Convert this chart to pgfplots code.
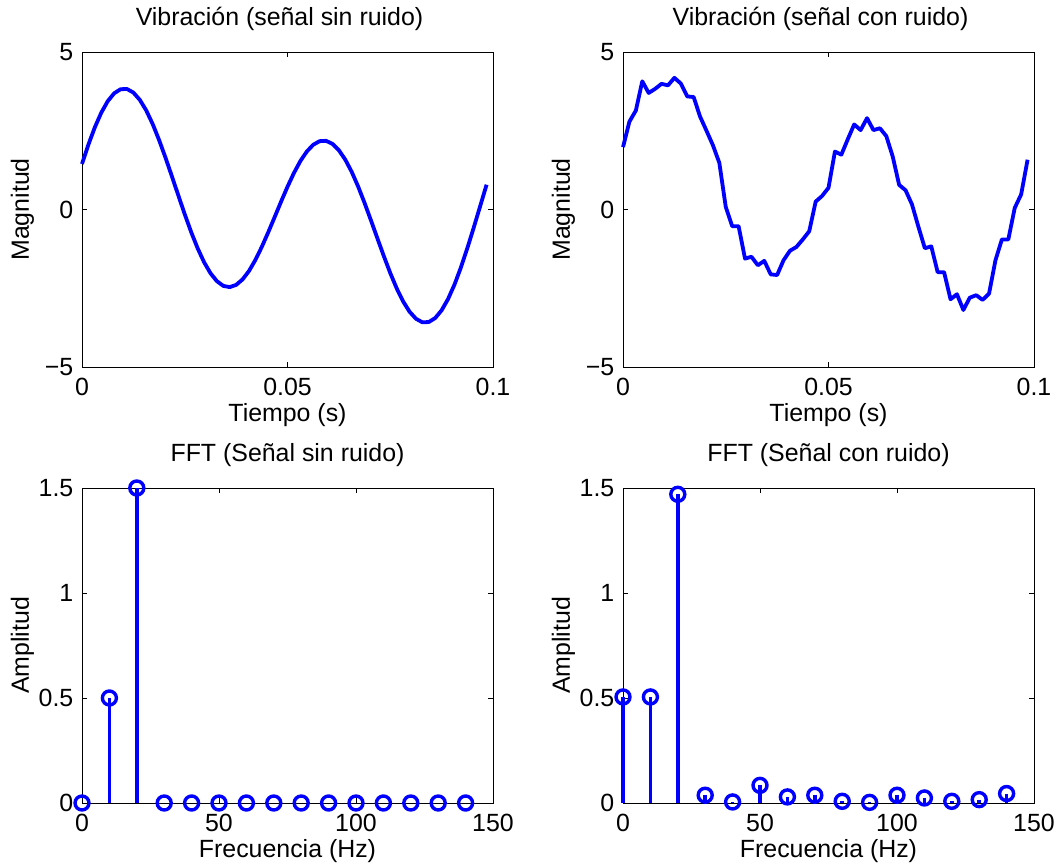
\documentclass[border=0pt]{standalone}
\usepackage{fontspec}
\setmainfont{Liberation Sans}
\usepackage{pgfplots}
\pgfplotsset{compat=1.18}
\definecolor{mblue}{RGB}{0,0,255}
\newcommand{\fsz}{\fontsize{25}{30}\selectfont}
\pgfplotsset{
  mstyle/.style={
    scale only axis, width=411bp, height=315bp,
    axis line style={line width=0.8bp},
    tick style={black, line width=0.8bp},
    major tick length=5bp, tick align=inside,
    scaled ticks=false,
    clip=false,
    tick label style={font=\fsz},
    xticklabel style={inner sep=0pt, anchor=north, yshift=-11bp},
    yticklabel style={inner sep=0pt, anchor=east, xshift=-8.5bp},
    label style={font=\fsz},
    xlabel style={at={(axis description cs:0.5,-0.173)}, anchor=base},
    ylabel style={at={(axis description cs:-0.129,0.5)}, anchor=base, rotate=0},
    title style={font=\fsz, at={(axis description cs:0.5,1)}, anchor=base, yshift=21bp},
    /pgf/number format/assume math mode=true,
  },
  sigstyle/.style={mstyle, xmin=0, xmax=0.1, ymin=-5, ymax=5,
    xtick={0,0.05,0.1}, xticklabels={0,0.05,0.1},
    ytick={-5,0,5}, yticklabels={−5,0,5},
    title style={xshift=-8bp},
    xlabel={Tiempo (s)}, ylabel={Magnitud}},
  fftstyle/.style={mstyle, xmin=0, xmax=150, ymin=0, ymax=1.5,
    xtick={0,50,100,150}, xticklabels={0,50,100,150},
    ytick={0,0.5,1,1.5}, yticklabels={0,0.5,1,1.5},
    xlabel={Frecuencia (Hz)}, ylabel={Amplitud}},
  sigline/.style={mblue, line width=3.8bp, no marks, line join=round},
  stemline/.style={mblue, line width=3.5bp, ycomb, mark=o, mark size=7bp,
    mark options={line width=3.4bp, solid}},
}
\begin{document}
\begin{tikzpicture}
\path[use as bounding box] (0,0) rectangle (1056bp,865bp);
% top-left
\begin{axis}[sigstyle, at={(82bp,498bp)}, anchor=south west,
  title={Vibración (señal sin ruido)}]
\addplot[sigline] coordinates {
(0.0000000,1.446) (0.0015625,2.061) (0.0031250,2.609) (0.0046875,3.073)
(0.0062500,3.436) (0.0078125,3.687) (0.0093750,3.818) (0.0109375,3.826)
(0.0125000,3.712) (0.0140625,3.481) (0.0156250,3.146) (0.0171875,2.715)
(0.0187500,2.208) (0.0203125,1.646) (0.0218750,1.053) (0.0234375,0.446)
(0.0250000,-0.152) (0.0265625,-0.717) (0.0281250,-1.229) (0.0296875,-1.669)
(0.0312500,-2.022) (0.0328125,-2.275) (0.0343750,-2.425) (0.0359375,-2.464)
(0.0375000,-2.394) (0.0390625,-2.220) (0.0406250,-1.954) (0.0421875,-1.602)
(0.0437500,-1.185) (0.0453125,-0.724) (0.0468750,-0.240) (0.0484375,0.250)
(0.0500000,0.723) (0.0515625,1.158) (0.0531250,1.536) (0.0546875,1.839)
(0.0562500,2.054) (0.0578125,2.169) (0.0593750,2.180) (0.0609375,2.084)
(0.0625000,1.882) (0.0640625,1.581) (0.0656250,1.194) (0.0671875,0.729)
(0.0687500,0.208) (0.0703125,-0.348) (0.0718750,-0.917) (0.0734375,-1.480)
(0.0750000,-2.017) (0.0765625,-2.503) (0.0781250,-2.917) (0.0796875,-3.243)
(0.0812500,-3.468) (0.0828125,-3.581) (0.0843750,-3.573) (0.0859375,-3.446)
(0.0875000,-3.200) (0.0890625,-2.842) (0.0906250,-2.386) (0.0921875,-1.842)
(0.0937500,-1.231) (0.0953125,-0.574) (0.0968750,0.105) (0.0984375,0.787)
};
\end{axis}
% top-right
\begin{axis}[sigstyle, at={(623bp,498bp)}, anchor=south west,
  title={Vibración (señal con ruido)}]
\addplot[sigline] coordinates {
(0.0000000,1.98) (0.0015625,2.79) (0.0031250,3.14) (0.0046875,4.07)
(0.0062500,3.70) (0.0078125,3.83) (0.0093750,3.99) (0.0109375,3.94)
(0.0125000,4.18) (0.0140625,4.00) (0.0156250,3.59) (0.0171875,3.57)
(0.0187500,2.95) (0.0203125,2.50) (0.0218750,2.04) (0.0234375,1.48)
(0.0250000,0.08) (0.0265625,-0.53) (0.0281250,-0.53) (0.0296875,-1.56)
(0.0312500,-1.50) (0.0328125,-1.77) (0.0343750,-1.63) (0.0359375,-2.06)
(0.0375000,-2.08) (0.0390625,-1.61) (0.0406250,-1.31) (0.0421875,-1.19)
(0.0437500,-0.95) (0.0453125,-0.69) (0.0468750,0.25) (0.0484375,0.43)
(0.0500000,0.69) (0.0515625,1.84) (0.0531250,1.74) (0.0546875,2.23)
(0.0562500,2.70) (0.0578125,2.52) (0.0593750,2.90) (0.0609375,2.52)
(0.0625000,2.58) (0.0640625,2.33) (0.0656250,1.68) (0.0671875,0.78)
(0.0687500,0.61) (0.0703125,0.16) (0.0718750,-0.55) (0.0734375,-1.23)
(0.0750000,-1.17) (0.0765625,-1.99) (0.0781250,-1.99) (0.0796875,-2.85)
(0.0812500,-2.69) (0.0828125,-3.19) (0.0843750,-2.80) (0.0859375,-2.72)
(0.0875000,-2.87) (0.0890625,-2.67) (0.0906250,-1.61) (0.0921875,-0.95)
(0.0937500,-0.95) (0.0953125,0.05) (0.0968750,0.48) (0.0984375,1.58)
};
\end{axis}
% bottom-left
\begin{axis}[fftstyle, at={(82bp,62bp)}, anchor=south west,
  title={FFT (Señal sin ruido)}]
\addplot[stemline] coordinates {
(0,0) (10,0.5) (20,1.5) (30,0) (40,0) (50,0) (60,0) (70,0)
(80,0) (90,0) (100,0) (110,0) (120,0) (130,0) (140,0)
};
\end{axis}
% bottom-right
\begin{axis}[fftstyle, at={(623bp,62bp)}, anchor=south west,
  title={FFT (Señal con ruido)}]
\addplot[stemline] coordinates {
(0,0.505) (10,0.505) (20,1.47) (30,0.037) (40,0.005) (50,0.084)
(60,0.029) (70,0.037) (80,0.008) (90,0.003) (100,0.037) (110,0.024)
(120,0.008) (130,0.016) (140,0.045)
};
\end{axis}
\end{tikzpicture}
\end{document}
